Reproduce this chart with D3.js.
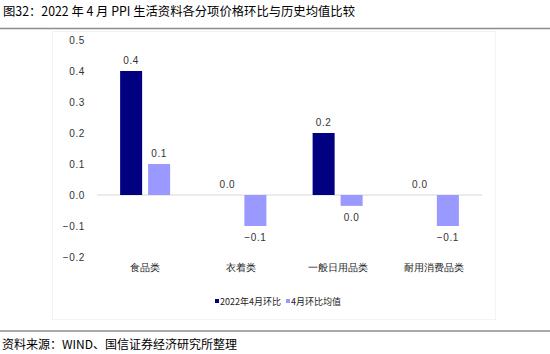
<!DOCTYPE html>
<html>
<head>
<meta charset="utf-8">
<script src="https://cdn.jsdelivr.net/npm/d3@7"></script>
<style>
  body { margin: 0; background: #fff; }
  svg { display: block; font-family: "Noto Sans CJK SC", "Noto Sans", sans-serif; }
</style>
</head>
<body>
<div class="c_chart"></div>
<script>
/* DATA */
const categories = ["食品类", "衣着类", "一般日用品类", "耐用消费品类"];
const series = ["2022年4月环比", "4月环比均值"];
const apr2022 = [0.4, 0.0, 0.2, 0.0];
const aprAvg = [0.1, -0.1, -0.035, -0.1];
const yTicks = [-0.2, -0.1, 0.0, 0.1, 0.2, 0.3, 0.4, 0.5];
const colors = ["#000080", "#9999ff"];

/* DIMENSIONS */
const width = 550, height = 354;
const plot = {left: 97, right: 482, top: 40, bottom: 257};

const svg = d3.select(".c_chart").append("svg")
  .attr("width", width)
  .attr("height", height);

/* title + rules */
svg.append("text")
  .attr("x", 3).attr("y", 16)
  .attr("font-size", 12.5)
  .attr("fill", "#000")
  .attr("textLength", 352)
  .attr("lengthAdjust", "spacingAndGlyphs")
  .text("图32：2022 年 4 月 PPI 生活资料各分项价格环比与历史均值比较");

svg.append("line")
  .attr("x1", 0).attr("x2", width)
  .attr("y1", 28.5).attr("y2", 28.5)
  .attr("stroke", "#8c8c8c").attr("stroke-width", 1.5);

svg.append("line")
  .attr("x1", 0).attr("x2", width)
  .attr("y1", 331).attr("y2", 331)
  .attr("stroke", "#8c8c8c").attr("stroke-width", 1.5);

svg.append("text")
  .attr("x", 2).attr("y", 349)
  .attr("font-size", 12)
  .attr("fill", "#000")
  .text("资料来源：WIND、国信证券经济研究所整理");

/* faint chart frame */
svg.append("rect")
  .attr("x", 52.5).attr("y", 31.5)
  .attr("width", 443).attr("height", 288)
  .attr("fill", "none")
  .attr("stroke", "#f3f3f3");

/* SCALES */
const y = d3.scaleLinear().domain([-0.2, 0.5]).range([plot.bottom, plot.top]);
const x0 = d3.scaleBand().domain(categories).range([plot.left, plot.right]);
const barW = 22, gap = 6;
const x1 = d3.scaleOrdinal().domain(series).range([-gap / 2 - barW, gap / 2]);

const fmt = d3.format(".1f");

/* y axis labels */
const yAxis = d3.axisLeft(y).tickValues(yTicks).tickFormat(fmt).tickSize(0).tickPadding(0);
const gy = svg.append("g")
  .attr("transform", "translate(85,0)")
  .call(yAxis);
gy.select(".domain").remove();
gy.selectAll("text")
  .attr("font-size", 10)
  .attr("fill", "#333")
  .attr("letter-spacing", "0.6px")
  .attr("font-family", "Liberation Sans, Arial, sans-serif");

/* zero line */
svg.append("line")
  .attr("x1", plot.left).attr("x2", plot.right)
  .attr("y1", y(0)).attr("y2", y(0))
  .attr("stroke", "#e4e4e4").attr("stroke-width", 1.5);

/* x category labels */
const xAxis = d3.axisBottom(x0).tickSize(0).tickPadding(0);
const gx = svg.append("g")
  .attr("transform", "translate(0,262)")
  .call(xAxis);
gx.select(".domain").remove();
gx.selectAll("text")
  .attr("font-size", 10)
  .attr("fill", "#222")
  .attr("dy", "0.9em");

/* BARS */
const rows = [];
categories.forEach((c, i) => {
  rows.push({cat: c, s: series[0], v: apr2022[i], col: colors[0]});
  rows.push({cat: c, s: series[1], v: aprAvg[i], col: colors[1]});
});

svg.append("g").selectAll("rect")
  .data(rows.filter(d => d.v !== 0))
  .enter()
  .append("rect")
  .attr("x", d => x0(d.cat) + x0.bandwidth() / 2 + x1(d.s))
  .attr("y", d => y(Math.max(0, d.v)))
  .attr("width", barW)
  .attr("height", d => Math.abs(y(d.v) - y(0)))
  .attr("fill", d => d.col);

/* value labels */
svg.append("g").selectAll("text")
  .data(rows)
  .enter()
  .append("text")
  .attr("x", d => x0(d.cat) + x0.bandwidth() / 2 + x1(d.s) + barW / 2)
  .attr("y", d => d.v >= 0 ? y(d.v) - 7 : y(d.v) + 15)
  .attr("text-anchor", "middle")
  .attr("font-size", 10)
  .attr("fill", "#333")
  .attr("letter-spacing", "0.6px")
  .attr("font-family", "Liberation Sans, Arial, sans-serif")
  .text(d => fmt(d.v).replace("-0.0", "0.0"));

/* LEGEND */
const legend = svg.append("g");
const legendX = [215, 286];
series.forEach((s, i) => {
  legend.append("rect")
    .attr("x", legendX[i]).attr("y", 299)
    .attr("width", 4).attr("height", 4)
    .attr("fill", colors[i]);
  legend.append("text")
    .attr("x", legendX[i] + 5).attr("y", 305)
    .attr("font-size", 9)
    .attr("fill", "#222")
    .text(s);
});
</script>
</body>
</html>
